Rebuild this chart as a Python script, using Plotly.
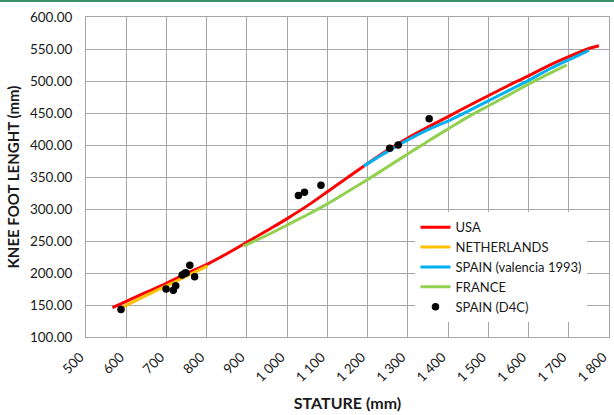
import plotly.graph_objects as go

# Knee-foot length versus stature, by population reference
usa_stature = [566, 650, 700, 750, 802, 850, 908, 960, 1000, 1057, 1100, 1150, 1200, 1255,
               1300, 1353, 1405, 1450, 1500, 1550, 1600, 1650, 1700, 1747, 1775]
usa_knee = [146, 170, 184, 199, 214, 230, 251, 270, 285, 308, 327, 349, 371, 394,
            411, 429, 446, 461, 477, 493, 508, 524, 538, 550, 555]

nl_stature = [592, 650, 700, 750, 802]
nl_knee = [147, 165, 180, 195, 211]

es93_stature = [1190, 1255, 1300, 1350, 1405, 1450, 1500, 1550, 1600, 1650, 1700, 1750]
es93_knee = [367, 392, 408, 424, 439, 453, 469, 485, 501, 518, 533, 548]

fr_stature = [891, 950, 1000, 1050, 1100, 1150, 1200, 1250, 1300, 1350, 1405, 1450,
              1500, 1550, 1600, 1650, 1695]
fr_knee = [242, 259, 275, 291, 308, 327, 346, 366, 386, 406, 427, 444,
           461, 478, 495, 511, 525]

d4c_stature = [587, 699, 717, 723, 739, 746, 749, 758, 770, 1028, 1043, 1084, 1255, 1276, 1353]
d4c_knee = [143, 175, 173, 180, 197, 200, 200, 212, 194, 321, 326, 337, 395, 400, 441]

FONT = "Lato"
GRID = "#a6a6a6"

fig = go.Figure()
fig.add_trace(go.Scatter(x=usa_stature, y=usa_knee, name="USA", mode="lines",
                         line=dict(color="#ff0000", width=3, shape="spline", smoothing=0.8)))
fig.add_trace(go.Scatter(x=nl_stature, y=nl_knee, name="NETHERLANDS", mode="lines",
                         line=dict(color="#ffc000", width=3, shape="spline", smoothing=0.8)))
fig.add_trace(go.Scatter(x=es93_stature, y=es93_knee, name="SPAIN (valencia 1993)", mode="lines",
                         line=dict(color="#00b0f0", width=3, shape="spline", smoothing=0.8)))
fig.add_trace(go.Scatter(x=fr_stature, y=fr_knee, name="FRANCE", mode="lines",
                         line=dict(color="#92d050", width=3, shape="spline", smoothing=0.8)))
fig.add_trace(go.Scatter(x=d4c_stature, y=d4c_knee, name="SPAIN (D4C)", mode="markers",
                         marker=dict(color="black", size=7.5)))

fig.update_layout(
    width=614, height=415,
    margin=dict(l=86, r=5, t=17, b=78, autoexpand=False),
    paper_bgcolor="white", plot_bgcolor="white",
    separators=". ",
    font=dict(family=FONT, size=13.5, color="#1a1a1a"),
    showlegend=True,
    legend=dict(x=0.63, y=0.39, xanchor="left", yanchor="top",
                bgcolor="white", borderwidth=0, font=dict(size=13),
                itemwidth=30, tracegroupgap=0),
    shapes=[dict(type="line", xref="paper", yref="paper",
                 x0=-86 / 523, x1=1 + 5 / 523, y0=1.05, y1=1.05,
                 line=dict(color="#3f8f6f", width=2))],
)
fig.update_xaxes(
    range=[500, 1800], tickvals=list(range(500, 1801, 100)),
    tickformat=",d", tickangle=-45, ticklabelstandoff=6, ticklabelshift=-6,
    ticklabeloverflow="allow", automargin=False,
    showgrid=True, gridcolor=GRID, gridwidth=1,
    showline=True, linecolor=GRID, mirror=True, zeroline=False,
    title=dict(text="<b>STATURE (mm)</b>", font=dict(size=16), standoff=13),
)
fig.update_yaxes(
    range=[100, 600], dtick=50, tick0=100, tickformat=".2f",
    automargin=False,
    showgrid=True, gridcolor=GRID, gridwidth=1,
    showline=True, linecolor=GRID, mirror=True, zeroline=False,
    ticklabelstandoff=10,
    title=dict(text="<b>KNEE FOOT LENGHT (mm)</b>", font=dict(size=15), standoff=6),
)

fig.write_html("out.html")
